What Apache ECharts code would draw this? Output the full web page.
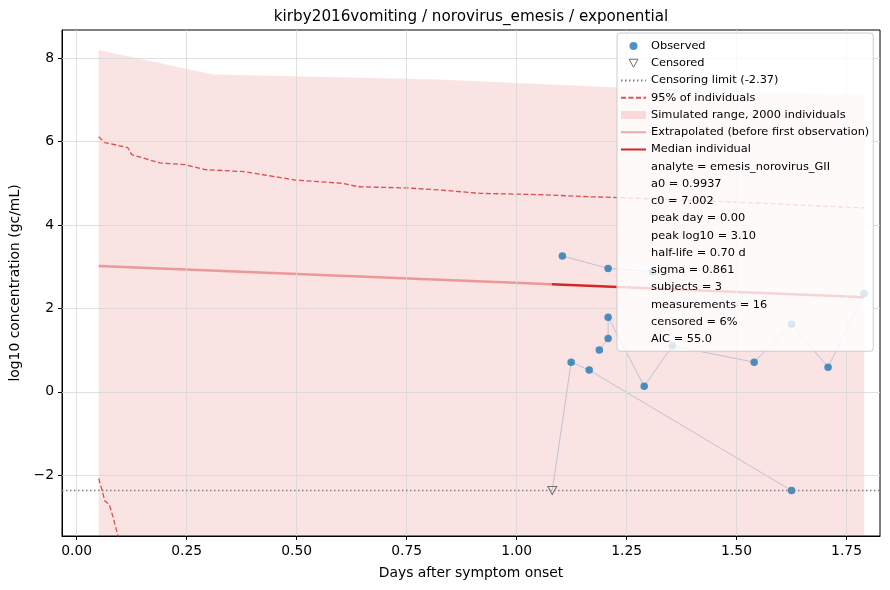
<!DOCTYPE html>
<html>
<head>
<meta charset="utf-8">
<script src="https://cdn.jsdelivr.net/npm/echarts@6/dist/echarts.min.js"></script>
<style>
  html, body { margin: 0; padding: 0; background: #fff; }
  #chart { width: 890px; height: 590px; }
</style>
</head>
<body>
<div id="chart"></div>
<script>
// ---- data ----
const titleText = 'kirby2016vomiting / norovirus_emesis / exponential';
const xTicks = [0, 0.25, 0.5, 0.75, 1.0, 1.25, 1.5, 1.75];
const yTicks = [-2, 0, 2, 4, 6, 8];

// Simulated range (upper edge; lower edge is below the plotted range)
const bandDays  = [0.05, 0.31, 0.82, 1.23, 1.79];
const bandUpper = [8.20, 7.61, 7.49, 7.30, 7.12];

// 95% of individuals: upper and lower dashed envelopes
const upperDays = [0.05, 0.064, 0.116, 0.125, 0.189, 0.246, 0.292, 0.383, 0.497, 0.606, 0.640, 0.752, 0.827, 0.918, 1.055, 1.162, 1.230, 1.50, 1.79];
const upperLog  = [6.12, 5.98, 5.86, 5.69, 5.49, 5.45, 5.33, 5.28, 5.08, 5.00, 4.92, 4.89, 4.84, 4.76, 4.73, 4.68, 4.66, 4.55, 4.41];
const lowerDays = [0.05, 0.056, 0.064, 0.074, 0.083, 0.094, 0.11];
const lowerLog  = [-2.08, -2.30, -2.62, -2.70, -3.02, -3.46, -4.10];

// Median individual
const extrapDays = [0.05, 1.08];
const extrapLog  = [3.02, 2.58];
const medianDays = [1.08, 1.79];
const medianLog  = [2.58, 2.27];

const censorLimit = -2.37;

// Subjects (measurement sequences)
const subjADays = [1.081, 1.124, 1.165, 1.625];
const subjALog  = [-2.37, 0.71, 0.52, -2.37];
const subjBDays = [1.104, 1.208, 1.309];
const subjBLog  = [3.26, 2.96, 2.88];
const subjCDays = [1.188, 1.208, 1.208, 1.290, 1.354, 1.540, 1.625, 1.708, 1.790];
const subjCLog  = [1.00, 1.28, 1.79, 0.13, 1.10, 0.71, 1.62, 0.59, 2.36];

// Observed / censored points
const obsDays = [1.124, 1.165, 1.625, 1.104, 1.208, 1.309, 1.188, 1.208, 1.208, 1.290, 1.354, 1.540, 1.625, 1.708, 1.790];
const obsLog  = [0.71, 0.52, -2.37, 3.26, 2.96, 2.88, 1.00, 1.28, 1.79, 0.13, 1.10, 0.71, 1.62, 0.59, 2.36];
const censDays = [1.081];
const censLog  = [-2.37];

const statLines = [
  'analyte = emesis_norovirus_GII',
  'a0 = 0.9937',
  'c0 = 7.002',
  'peak day = 0.00',
  'peak log10 = 3.10',
  'half-life = 0.70 d',
  'sigma = 0.861',
  'subjects = 3',
  'measurements = 16',
  'censored = 6%',
  'AIC = 55.0'
];

// ---- build ----
const zip = (xs, ys) => xs.map((x, i) => [x, ys[i]]);
const FONT = 'DejaVu Sans';
const RED = '#d62728';
const fmtY = v => (v < 0 ? '\u2212' + Math.abs(v) : String(v));
const NOSYM = { color: 'rgba(0,0,0,0)', borderWidth: 0, opacity: 0 };

const series = [];
series.push({
  name: 'Simulated range, 2000 individuals', type: 'line', z: 1,
  data: zip(bandDays, bandUpper), symbol: 'none', silent: true,
  itemStyle: { color: 'rgba(214,39,40,0.13)' },
  lineStyle: { width: 0 },
  areaStyle: { color: 'rgba(214,39,40,0.13)', origin: 'start', opacity: 1 }
});
series.push({
  name: '__grid', type: 'line', z: 2, data: [], silent: true,
  markLine: {
    silent: true, symbol: 'none', label: { show: false },
    lineStyle: { color: '#d8d8d8', width: 0.8, type: 'solid' },
    emphasis: { disabled: true },
    data: xTicks.map(v => ({ xAxis: v })).concat(yTicks.map(v => ({ yAxis: v })))
  }
});
series.push({
  name: '95% of individuals', type: 'line', z: 3, data: zip(upperDays, upperLog),
  symbol: 'none', itemStyle: { color: 'rgba(214,39,40,0.8)' },
  lineStyle: { color: 'rgba(214,39,40,0.8)', width: 1.3, type: [5, 2.5] }
});
series.push({
  name: '__lower', type: 'line', z: 3, data: zip(lowerDays, lowerLog),
  symbol: 'none', lineStyle: { color: 'rgba(214,39,40,0.8)', width: 1.3, type: [5, 2.5] }
});
series.push({
  name: 'Censoring limit (-2.37)', type: 'line', z: 3, data: [],
  symbol: 'none', itemStyle: { color: '#808080' },
  lineStyle: { color: '#808080', width: 1.3, type: [1.5, 2.5] },
  markLine: {
    silent: true, symbol: 'none', label: { show: false },
    lineStyle: { color: '#808080', width: 1.3, type: [1.5, 2.5] },
    data: [{ yAxis: censorLimit }]
  }
});
series.push({
  name: 'Extrapolated (before first observation)', type: 'line', z: 3,
  data: zip(extrapDays, extrapLog), symbol: 'none',
  itemStyle: { color: 'rgba(214,39,40,0.4)' },
  lineStyle: { color: 'rgba(214,39,40,0.4)', width: 2.5 }
});
series.push({
  name: 'Median individual', type: 'line', z: 3,
  data: zip(medianDays, medianLog), symbol: 'none',
  itemStyle: { color: RED }, lineStyle: { color: RED, width: 2.5 }
});
[[subjADays, subjALog], [subjBDays, subjBLog], [subjCDays, subjCLog]].forEach((s, i) => {
  series.push({
    name: '__subj' + i, type: 'line', z: 3, data: zip(s[0], s[1]), symbol: 'none',
    lineStyle: { color: 'rgba(150,172,205,0.6)', width: 1 }
  });
});
series.push({
  name: 'Observed', type: 'scatter', z: 4, data: zip(obsDays, obsLog),
  symbol: 'circle', symbolSize: 7.5,
  itemStyle: { color: '#1f77b4', opacity: 0.8 }
});
const triPath = 'path://M0,0L10,0L5,9Z';
series.push({
  name: 'Censored', type: 'scatter', z: 4, data: zip(censDays, censLog),
  symbol: triPath, symbolSize: [9, 8],
  itemStyle: { color: 'rgba(255,255,255,0)', borderColor: '#6e6e6e', borderWidth: 1, opacity: 1 }
});
statLines.forEach(t => series.push({ name: t, type: 'line', data: [] }));

const legendData = [
  { name: 'Observed', icon: 'circle', itemStyle: { color: '#1f77b4', opacity: 0.8 } },
  { name: 'Censored', icon: triPath, itemStyle: { color: 'rgba(255,255,255,0)', borderColor: '#6e6e6e', borderWidth: 1 } },
  { name: 'Censoring limit (-2.37)', itemStyle: NOSYM },
  { name: '95% of individuals', itemStyle: NOSYM },
  { name: 'Simulated range, 2000 individuals', icon: 'rect', itemStyle: { color: 'rgba(214,39,40,0.15)' } },
  { name: 'Extrapolated (before first observation)', itemStyle: NOSYM },
  { name: 'Median individual', itemStyle: NOSYM }
].concat(statLines.map(t => ({ name: t, icon: 'none' })));

const option = {
  animation: false,
  backgroundColor: '#fff',
  textStyle: { fontFamily: FONT },
  grid: { left: 62, right: 10, top: 30, bottom: 54, show: true, borderColor: '#000', borderWidth: 1, backgroundColor: 'transparent', containLabel: false },
  xAxis: {
    type: 'value', min: -0.0334, max: 1.826,
    name: 'Days after symptom onset', nameLocation: 'middle', nameGap: 30,
    nameTextStyle: { fontSize: 13.9, color: '#000', fontFamily: FONT },
    axisLine: { show: true, onZero: false, lineStyle: { color: '#000', width: 1 } },
    axisTick: { show: true, inside: false, length: 4, customValues: xTicks, lineStyle: { color: '#000' } },
    axisLabel: { customValues: xTicks, formatter: v => v.toFixed(2), fontSize: 13.9, color: '#000', margin: 8, fontFamily: FONT },
    splitLine: { show: false }
  },
  yAxis: {
    type: 'value', min: -3.46, max: 8.68,
    name: 'log10 concentration (gc/mL)', nameLocation: 'middle', nameGap: 37,
    nameTextStyle: { fontSize: 13.9, color: '#000', fontFamily: FONT },
    axisLine: { show: true, onZero: false, lineStyle: { color: '#000', width: 1 } },
    axisTick: { show: true, inside: false, length: 4, customValues: yTicks, lineStyle: { color: '#000' } },
    axisLabel: { customValues: yTicks, formatter: fmtY, fontSize: 13.9, color: '#000', margin: 8, fontFamily: FONT },
    splitLine: { show: false }
  },
  legend: {
    orient: 'vertical', left: 617, top: 33, z: 20, zlevel: 0,
    padding: [6, 4, 5, 3],
    itemWidth: 25, itemHeight: 8, itemGap: 3.25,
    backgroundColor: 'rgba(255,255,255,0.8)', borderColor: '#cccccc', borderWidth: 1, borderRadius: 3,
    selectedMode: false,
    textStyle: { fontSize: 11.35, lineHeight: 14, color: '#000', fontFamily: FONT },
    data: legendData
  },
  graphic: [{
    type: 'text', x: 471, y: 17, silent: true,
    style: { text: titleText, textAlign: 'center', textVerticalAlign: 'middle', font: '15.2px "DejaVu Sans"', fill: '#000' }
  }],
  series: series
};

const chart = echarts.init(document.getElementById('chart'), null, { renderer: 'canvas' });
chart.setOption(option);
</script>
</body>
</html>
